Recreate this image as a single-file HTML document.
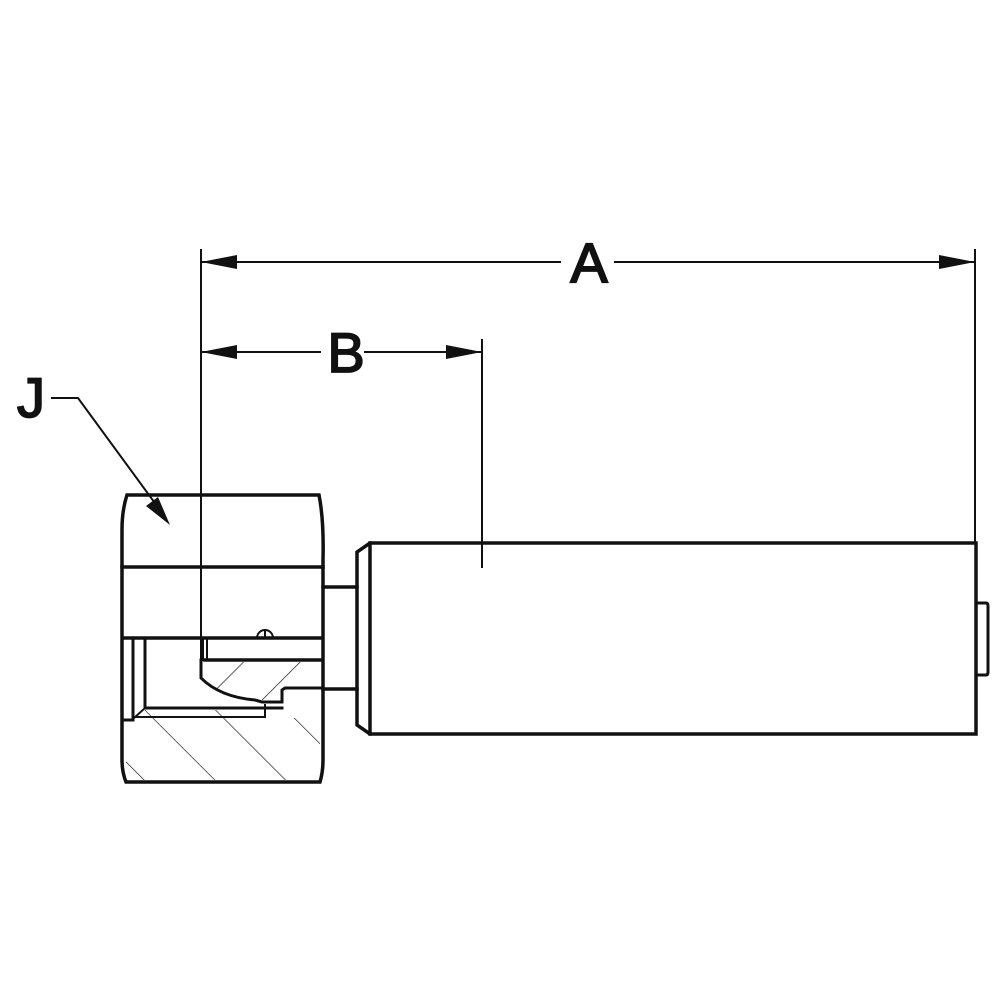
<!DOCTYPE html>
<html><head><style>html,body{margin:0;padding:0;background:#fff}svg{display:block}</style></head>
<body>
<svg width="1000" height="1000" viewBox="0 0 1000 1000" xmlns="http://www.w3.org/2000/svg">
<defs>
<pattern id="h1" patternUnits="userSpaceOnUse" width="50" height="50" patternTransform="rotate(-45)">
<line x1="0" y1="0" x2="0" y2="50" stroke="#111" stroke-width="1.3"/></pattern>
<pattern id="h2" patternUnits="userSpaceOnUse" width="40" height="40" patternTransform="rotate(45)">
<line x1="0" y1="0" x2="0" y2="40" stroke="#111" stroke-width="1.3"/></pattern>
</defs>
<g fill="none" stroke="#111" stroke-linecap="square">
<path d="M126 720 L133 720 L145 710 L265 710 L265 718 L300 718 L300 700 L282 700 L282 690 L287 688 L320 688 L320 780 L126 780 Z" fill="url(#h1)" stroke="none"/>
<path d="M203 662 L320 662 L320 688 L287 688 L282 690 L282 700 L258 700 Q215 695 203 678 Z" fill="url(#h2)" stroke="none"/>
<path d="M127 495 L319 495 Q324 520 323 560 L323 760 Q323 772 320 782 L126 782 Q122 772 122 760 L122 530 Q122 510 127 495 Z" stroke-width="3.5"/>
<line x1="122" y1="567" x2="323" y2="567" stroke-width="3.5"/>
<line x1="124" y1="638" x2="322" y2="638" stroke-width="3.5"/>
<line x1="133" y1="640" x2="133" y2="719" stroke-width="3"/>
<line x1="145" y1="640" x2="145" y2="708" stroke-width="3"/>
<line x1="124" y1="720" x2="133" y2="720" stroke-width="3"/>
<line x1="133" y1="719" x2="145" y2="708" stroke-width="2"/>
<line x1="145" y1="708" x2="282" y2="708" stroke-width="3"/>
<line x1="135" y1="717" x2="265" y2="717" stroke-width="2"/>
<line x1="265" y1="705" x2="265" y2="717" stroke-width="2"/>
<line x1="203" y1="640" x2="203" y2="660" stroke-width="2"/>
<line x1="207" y1="640" x2="207" y2="660" stroke-width="2"/>
<line x1="205" y1="660" x2="322" y2="660" stroke-width="3.5"/>
<path d="M201 660 L201 678 Q220 697 255 700 L262 702 L282 702 L282 690 L285 688 L322 688" stroke-width="3"/>
<path d="M257 638 A8 8 0 0 1 273 638 M265 630 L265 638" stroke-width="2"/>
<line x1="323" y1="587" x2="357" y2="587" stroke-width="3.5"/>
<line x1="323" y1="689" x2="357" y2="689" stroke-width="3.5"/>
<path d="M370 543 L976 543 L976 734 L370 734 L357 725 L357 552 Z" stroke-width="3.5"/>
<line x1="370" y1="543" x2="370" y2="734" stroke-width="3.5"/>
<path d="M977 603 L986 603 Q988 603 988 606 L988 672 Q988 675 986 675 L977 675" stroke-width="3"/>
<line x1="201" y1="250" x2="201" y2="660" stroke-width="2"/>
<line x1="975" y1="250" x2="975" y2="543" stroke-width="2"/>
<line x1="482" y1="340" x2="482" y2="567" stroke-width="2"/>
<line x1="201" y1="262" x2="560" y2="262" stroke-width="2"/>
<line x1="615" y1="262" x2="975" y2="262" stroke-width="2"/>
<line x1="201" y1="352" x2="320" y2="352" stroke-width="2"/>
<line x1="365" y1="352" x2="482" y2="352" stroke-width="2"/>
<polyline points="52,398 78,398 160,510" stroke-width="2"/>
</g>
<g fill="#111">
<polygon points="201,262 237,255 237,269"/>
<polygon points="975,262 939,255 939,269"/>
<polygon points="201,352 237,345 237,359"/>
<polygon points="482,352 446,345 446,359"/>
<polygon points="170,525 146,506 158,497"/>
</g>
<g font-family="'Liberation Sans', sans-serif" font-size="56" fill="#111" stroke="#111" stroke-width="1.8" text-anchor="middle">
<text x="589" y="282">A</text>
<text x="346" y="372">B</text>
<text x="31" y="417">J</text>
</g>
</svg>
</body></html>
